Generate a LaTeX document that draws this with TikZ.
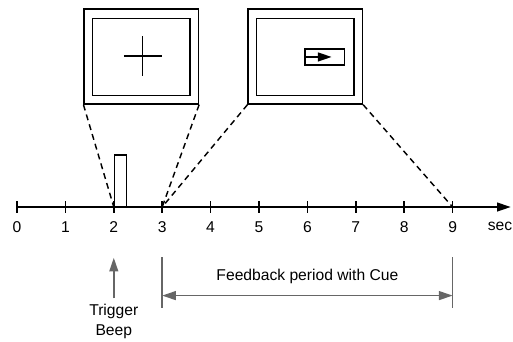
\documentclass[tikz,border=0pt]{standalone}
\usepackage{fontspec}
\setmainfont{Liberation Sans}
\usetikzlibrary{arrows.meta,calc}

\begin{document}
\begin{tikzpicture}[font=\fontsize{9.2}{11.5}\selectfont, line width=0.85pt, >={Triangle[length=8pt,width=5.2pt]}]

\tikzstyle{screen} = [draw, inner sep=0pt, minimum width=2.36cm, minimum height=1.96cm]
\tikzstyle{display} = [draw, inner sep=0pt, minimum width=2.01cm, minimum height=1.59cm]
\tikzstyle{zoomline} = [dashed, dash pattern=on 3.5pt off 2.5pt]
\tikzstyle{marker} = [gray!80!black, line width=0.9pt]

\useasboundingbox (-0.351,-2.769) rectangle (10.248,4.277);

% time axis
\coordinate (origin) at (0,0);
\coordinate (axisend) at (10.2,0);
\draw[->] (origin) -- (axisend);
\foreach \i in {0,...,9} {
  \coordinate (p\i) at (\i,0);
  \draw (\i,0.12) -- (\i,-0.12);
  \node (t\i) at (\i,-0.41) {\i};
}
\node (sec) at (9.98,-0.41) {sec};

% beep
\node[draw, inner sep=0pt, minimum width=0.25cm, minimum height=1.06cm, anchor=south west] (beep) at (2,0) {};

% screens
\node[screen] (fixscreen) at (2.568,3.109) {};
\node[display] (fixdisplay) at (2.565,3.095) {};
\draw (2.207,3.12) -- (2.987,3.12);
\draw (2.597,2.71) -- (2.597,3.54);

\node[screen] (cuescreen) at (5.957,3.109) {};
\node[display] (cuedisplay) at (5.958,3.095) {};
\node[draw, inner sep=0pt, minimum width=0.82cm, minimum height=0.33cm, anchor=west] (cuebox) at (5.936,3.10) {};
\coordinate (cuetip) at (6.50,3.10);
\draw[->] (cuebox.west) -- (cuetip);

\draw[zoomline] (fixscreen.south west) -- (p2);
\draw[zoomline] (fixscreen.south east) -- (p3);
\draw[zoomline] (cuescreen.south west) -- (p3);
\draw[zoomline] (cuescreen.south east) -- (p9);

% trigger
\node[align=center] (trigger) at (2,-2.37) {Trigger\\Beep};
\coordinate (beepup) at (2,-1.05);
\draw[->,marker] (trigger.north) -- (beepup);

% feedback period
\coordinate (fbtopl) at (3,-1.04);
\coordinate (fbbotl) at (3,-2.09);
\coordinate (fbtopr) at (9,-1.04);
\coordinate (fbbotr) at (9,-2.09);
\draw[marker] (fbtopl) -- (fbbotl);
\draw[marker] (fbtopr) -- (fbbotr);
\coordinate (fbstart) at (3,-1.83);
\coordinate (fbend) at (9,-1.83);
\draw[<->,marker] (fbstart) -- node[above=0.12cm, black] (fblabel) {Feedback period with Cue} (fbend);

\end{tikzpicture}
\end{document}
